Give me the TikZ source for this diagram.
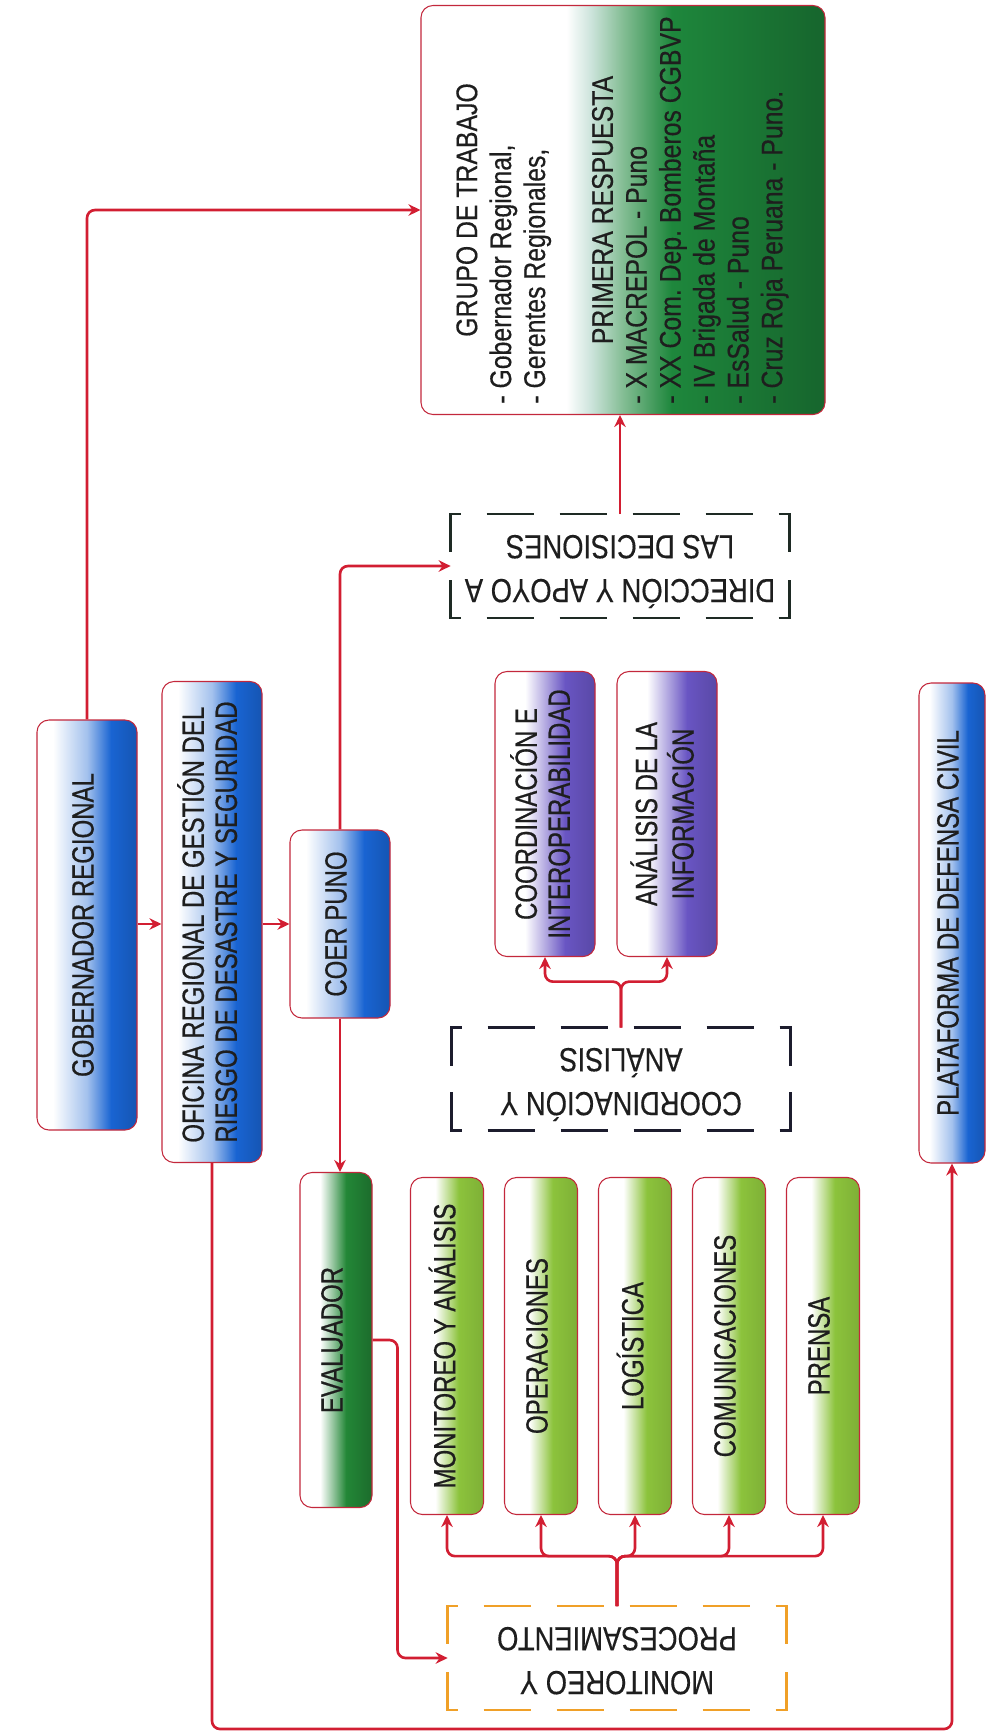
\documentclass[tikz,border=0pt]{standalone}
\usepackage{fontspec}
\usepackage{graphicx}
\setmainfont{Liberation Sans}
\newfontfamily\boxfont{Liberation Sans}[FakeStretch=0.78,FakeBold=0.6]
\newfontfamily\grupofont{Liberation Sans}[FakeStretch=0.83,FakeBold=0.4]
\newfontfamily\dashfont{Liberation Sans}[FakeStretch=0.82,FakeBold=0.3]
\usetikzlibrary{arrows.meta,calc}
\frenchspacing

\definecolor{cblue}{RGB}{25,100,210}
\definecolor{cpurple}{RGB}{105,85,195}
\definecolor{clime}{RGB}{140,195,60}
\definecolor{cgreen}{RGB}{35,135,55}
\definecolor{cgrupo}{RGB}{30,135,60}
\definecolor{cmint}{RGB}{205,228,220}
\definecolor{cedge}{RGB}{195,40,60}
\definecolor{cline}{RGB}{210,30,50}
\definecolor{cink}{RGB}{30,30,30}
\definecolor{cframe}{RGB}{30,42,36}
\definecolor{cnavy}{RGB}{28,28,45}
\definecolor{corange}{RGB}{240,160,40}

\pgfdeclarehorizontalshading{fadeblue}{100bp}{color(0bp)=(white); color(25bp)=(white); color(33bp)=(white); color(50bp)=(cblue!40!white); color(62bp)=(cblue); color(75bp)=(cblue!85!black); color(100bp)=(cblue!85!black)}
\pgfdeclarehorizontalshading{fadepurple}{100bp}{color(0bp)=(white); color(25bp)=(white); color(40bp)=(white); color(60bp)=(cpurple); color(75bp)=(cpurple!85!black); color(100bp)=(cpurple!85!black)}
\pgfdeclarehorizontalshading{fadelime}{100bp}{color(0bp)=(white); color(25bp)=(white); color(42bp)=(white); color(58bp)=(clime); color(75bp)=(clime!90!black); color(100bp)=(clime!90!black)}
\pgfdeclarehorizontalshading{fadegreen}{100bp}{color(0bp)=(white); color(25bp)=(white); color(39bp)=(white); color(57bp)=(cgreen); color(75bp)=(cgreen!80!black); color(100bp)=(cgreen!80!black)}
\pgfdeclarehorizontalshading{fadegrupo}{100bp}{color(0bp)=(white); color(25bp)=(white); color(43bp)=(white); color(46bp)=(cmint); color(50bp)=(cgrupo!55!white); color(56bp)=(cgrupo); color(75bp)=(cgrupo!75!black); color(100bp)=(cgrupo!75!black)}

\newcommand{\vlabel}[2][c]{\rotatebox{90}{\begin{tabular}{@{}#1@{}}#2\end{tabular}}}
\newcommand{\flipped}[1]{\rotatebox{180}{\begin{tabular}{@{}c@{}}#1\end{tabular}}}
\newcommand{\bracketframe}[2]{%
  \draw[#2] ($(#1.north west)+(10,0)$) -- (#1.north west) -- ++(0,38);
  \draw[#2] ($(#1.north east)+(-10,0)$) -- (#1.north east) -- ++(0,38);
  \draw[#2] ($(#1.south west)+(10,0)$) -- (#1.south west) -- ++(0,-38);
  \draw[#2] ($(#1.south east)+(-10,0)$) -- (#1.south east) -- ++(0,-38);
  \draw[#2,dash pattern=on 9.4mm off 5.2mm,dash phase=9.4mm] ($(#1.north west)+(10,0)$) -- ($(#1.north east)+(-10,0)$);
  \draw[#2,dash pattern=on 9.4mm off 5.2mm,dash phase=9.4mm] ($(#1.south west)+(10,0)$) -- ($(#1.south east)+(-10,0)$);}

\tikzset{
  unit/.style={shade,shading=#1,draw=cedge,line width=0.6pt,rounded corners=2.4mm,
    inner sep=0pt,text=cink,font=\boxfont\fontsize{17.5}{18.8}\selectfont},
  frame/.style={inner sep=0pt,text=cink,font=\dashfont\fontsize{19}{25}\selectfont},
  link/.style={cline,line width=1.5pt,rounded corners=1.6mm,-{Stealth[length=2.4mm,width=2.3mm]}}
}

\begin{document}
\begin{tikzpicture}[x=0.2mm,y=-0.2mm]
  \useasboundingbox (0,0) rectangle (987,1732);

  \node[unit=fadegrupo,minimum width=80.8mm,minimum height=81.8mm,font=\grupofont\fontsize{17}{19.3}\selectfont] (grupo) at (623,210)
    {\vlabel[l]{\multicolumn{1}{@{}c@{}}{GRUPO DE TRABAJO}\\- Gobernador Regional,\\- Gerentes Regionales,\\ \\
     \multicolumn{1}{@{}c@{}}{PRIMERA RESPUESTA}\\- X MACREPOL - Puno\\- XX Com. Dep. Bomberos CGBVP\\- IV Brigada de Montaña\\- EsSalud - Puno\\- Cruz Roja Peruana - Puno.}};

  \node[unit=fadeblue,minimum width=20mm,minimum height=82mm] (gob) at (87,925) {\vlabel{GOBERNADOR REGIONAL}};
  \node[unit=fadeblue,minimum width=20mm,minimum height=96.2mm] (ofi) at (212,922)
    {\vlabel[l]{OFICINA REGIONAL DE GESTIÓN DEL\\RIESGO DE DESASTRE  Y SEGURIDAD}};
  \node[unit=fadeblue,minimum width=20mm,minimum height=37.6mm] (coer) at (340,924) {\vlabel{COER PUNO}};
  \node[unit=fadeblue,minimum width=13.2mm,minimum height=96mm] (plat) at (952,923) {\vlabel{PLATAFORMA DE DEFENSA CIVIL}};

  \node[frame,minimum width=67.6mm,minimum height=20.6mm] (dir) at (620,566) {\flipped{DIRECCIÓN Y APOYO A\\LAS DECISIONES}};
  \bracketframe{dir}{cframe,line width=1.4pt}

  \node[unit=fadepurple,minimum width=20mm,minimum height=57mm] (coord) at (545,814) {\vlabel{COORDINACIÓN E\\INTEROPERABILIDAD}};
  \node[unit=fadepurple,minimum width=20mm,minimum height=57mm] (anal) at (667,814) {\vlabel{ANÁLISIS DE LA\\INFORMACIÓN}};
  \node[frame,minimum width=67.6mm,minimum height=20.4mm] (cya) at (621,1079) {\flipped{COORDINACIÓN Y\\ANÁLISIS}};
  \bracketframe{cya}{cnavy,line width=1.4pt}

  \node[unit=fadegreen,minimum width=14.4mm,minimum height=67mm] (eval) at (336,1340) {\vlabel{EVALUADOR}};
  \node[unit=fadelime,minimum width=14.6mm,minimum height=67.4mm] (mon) at (447,1346) {\vlabel{MONITOREO Y ANÁLISIS}};
  \node[unit=fadelime,minimum width=14.6mm,minimum height=67.4mm] (ope) at (541,1346) {\vlabel{OPERACIONES}};
  \node[unit=fadelime,minimum width=14.6mm,minimum height=67.4mm] (log) at (635,1346) {\vlabel{LOGÍSTICA}};
  \node[unit=fadelime,minimum width=14.6mm,minimum height=67.4mm] (com) at (729,1346) {\vlabel{COMUNICACIONES}};
  \node[unit=fadelime,minimum width=14.6mm,minimum height=67.4mm] (pre) at (823,1346) {\vlabel{PRENSA}};

  \node[frame,minimum width=67.6mm,minimum height=20.6mm] (myp) at (617,1658) {\flipped{MONITOREO Y\\PROCESAMIENTO}};
  \bracketframe{myp}{corange,line width=1.4pt}

  \coordinate (base) at (600,1729);

  \draw[link] (gob.north) |- (grupo.west);
  \draw[link] (gob.east |- coer.west) -- (ofi.west |- coer.west);
  \draw[link] (ofi.east |- coer.west) -- (coer.west);
  \draw[link] (coer.north) |- (dir.west);
  \draw[link] (dir.north) -- (dir.north |- grupo.south);
  \draw[link] (coer.south) -- (coer.south |- eval.north);
  \draw[link] (eval.east) -- ++(25,0) |- (myp.west);
  \draw[link] (ofi.south) |- (base) -| (plat.south);
  \foreach \n in {coord,anal}
    \draw[link] (cya.north) -- ++(0,-46) -| (\n.south);
  \foreach \n in {mon,ope,log,com,pre}
    \draw[link] (myp.north) -- ++(0,-50) -| (\n.south);
\end{tikzpicture}
\end{document}
